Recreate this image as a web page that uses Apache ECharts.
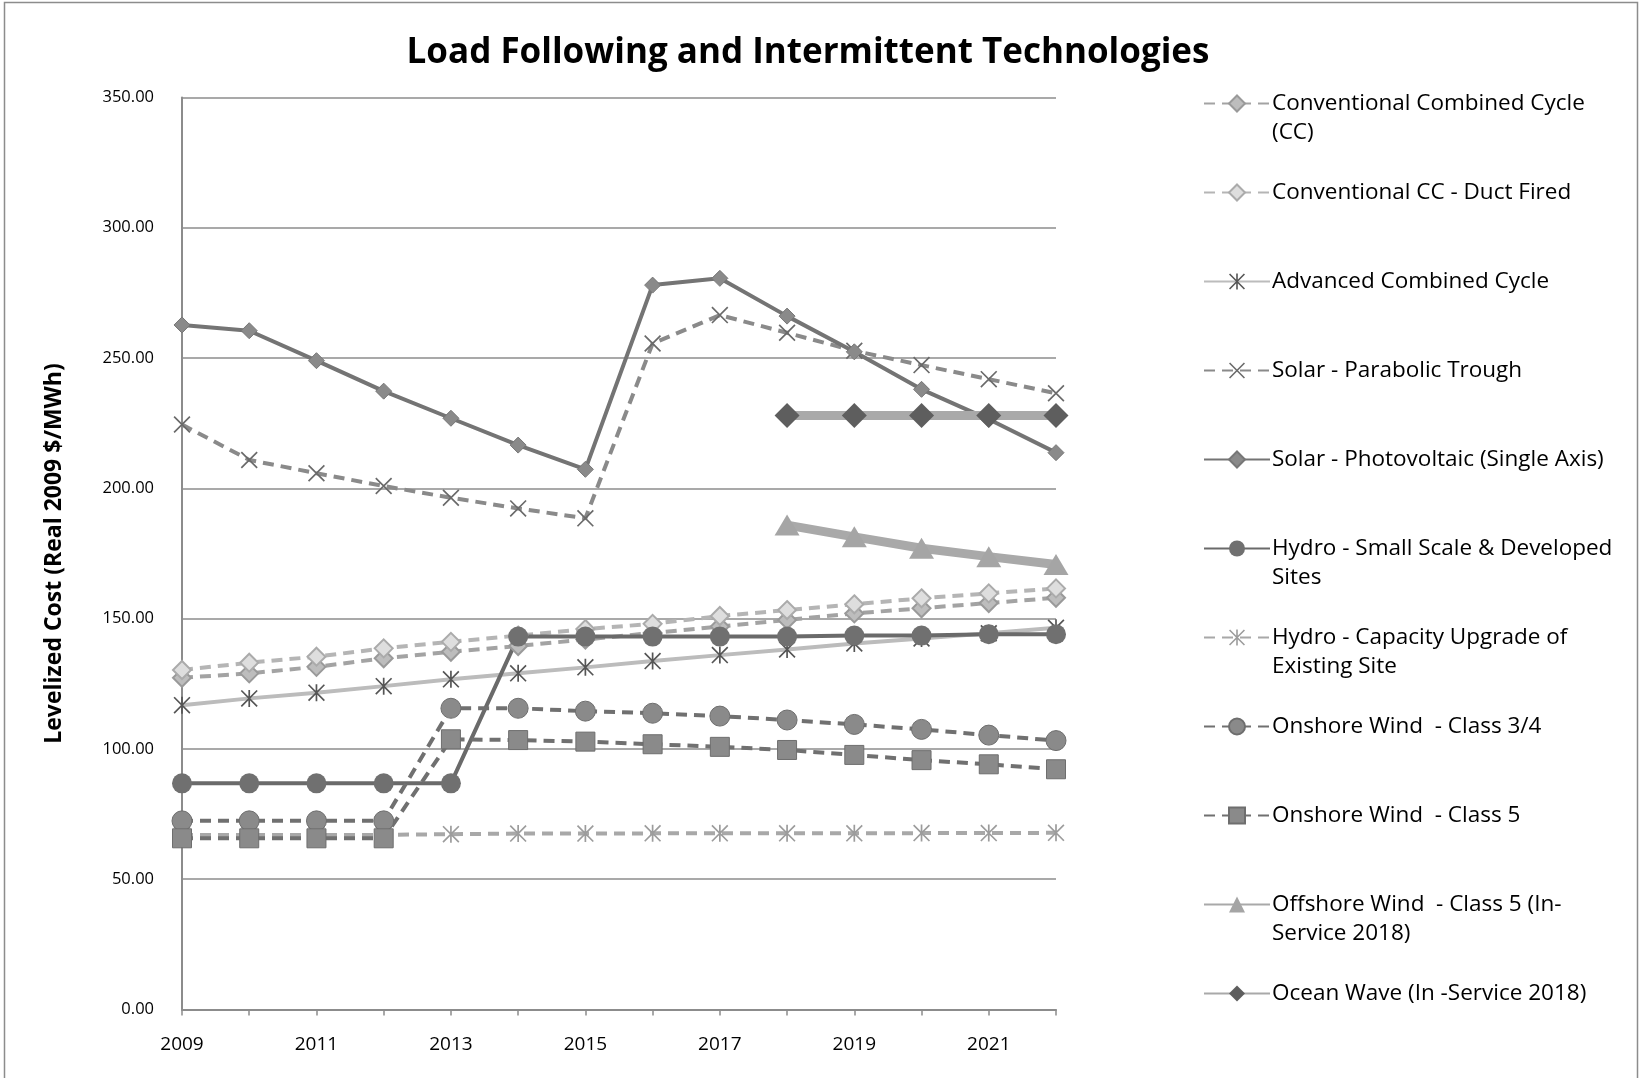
<!DOCTYPE html>
<html>
<head>
<meta charset="utf-8">
<script src="https://cdn.jsdelivr.net/npm/echarts@6/dist/echarts.min.js"></script>
<style>
html,body{margin:0;padding:0;background:#fff;}
#chart{width:1642px;height:1078px;}
</style>
</head>
<body>
<div id="chart"></div>
<script>
const years = ['2009','2010','2011','2012','2013','2014','2015','2016','2017','2018','2019','2020','2021','2022'];
const yTicks = [0, 50, 100, 150, 200, 250, 300, 350];

const convCC      = [127.3, 129.0, 131.5, 134.8, 137.3, 139.5, 142.0, 144.5, 147.0, 149.5, 152.0, 154.0, 156.0, 158.0];
const ductFired   = [130.3, 133.1, 135.4, 138.6, 141.1, 143.5, 146.0, 148.0, 151.0, 153.3, 155.5, 157.8, 159.7, 161.6];
const advCC       = [116.8, 119.4, 121.6, 124.1, 126.7, 129.0, 131.3, 133.7, 136.0, 138.2, 140.5, 142.4, 144.4, 146.5];
const solarTrough = [224.5, 210.9, 205.8, 200.9, 196.4, 192.3, 188.5, 255.6, 266.5, 259.7, 252.8, 247.3, 241.9, 236.5];
const solarPV     = [262.7, 260.5, 249.0, 237.3, 226.9, 216.6, 207.3, 278.0, 280.6, 266.1, 252.4, 238.0, 226.5, 213.7];
const hydroSmall  = [86.8, 86.8, 86.8, 86.8, 86.8, 143.1, 143.1, 143.1, 143.1, 143.1, 143.5, 143.5, 144.0, 144.0];
const hydroUpg    = [67.0, 67.0, 67.0, 67.0, 67.3, 67.5, 67.5, 67.6, 67.6, 67.6, 67.6, 67.7, 67.7, 67.8];
const wind34      = [72.4, 72.4, 72.4, 72.4, 115.6, 115.6, 114.5, 113.7, 112.6, 111.1, 109.4, 107.5, 105.3, 103.2];
const wind5       = [65.7, 65.7, 65.7, 65.7, 103.7, 103.4, 102.8, 101.8, 100.8, 99.6, 97.7, 95.7, 94.1, 92.2];
const offshore    = [null, null, null, null, null, null, null, null, null, 185.9, 181.4, 177.0, 173.8, 170.8];
const oceanWave   = [null, null, null, null, null, null, null, null, null, 228.0, 228.0, 228.0, 228.0, 228.0];

const names = [
  'Conventional Combined Cycle (CC)',
  'Conventional CC - Duct Fired',
  'Advanced Combined Cycle',
  'Solar - Parabolic Trough',
  'Solar - Photovoltaic (Single Axis)',
  'Hydro - Small Scale & Developed Sites',
  'Hydro - Capacity Upgrade of Existing Site',
  'Onshore Wind  - Class 3/4',
  'Onshore Wind  - Class 5',
  'Offshore Wind  - Class 5 (In-Service 2018)',
  'Ocean Wave (In -Service 2018)'
];
const legendLines = {
  'Conventional Combined Cycle (CC)': ['Conventional Combined Cycle', '(CC)'],
  'Hydro - Small Scale & Developed Sites': ['Hydro - Small Scale & Developed', 'Sites'],
  'Hydro - Capacity Upgrade of Existing Site': ['Hydro - Capacity Upgrade of', 'Existing Site'],
  'Offshore Wind  - Class 5 (In-Service 2018)': ['Offshore Wind  - Class 5 (In-', 'Service 2018)']
};

const FONT = 'Open Sans';
const STAR = 'path://M9,0 L11,0 L11,20 L9,20 Z M0,1.4 L1.4,0 L20,18.6 L18.6,20 Z M18.6,0 L20,1.4 L1.4,20 L0,18.6 Z';
const XMARK = 'path://M0,1.4 L1.4,0 L20,18.6 L18.6,20 Z M18.6,0 L20,1.4 L1.4,20 L0,18.6 Z';
const DASH = [11, 7];

function mk(name, data, o) {
  return {
    name: name, type: 'line', data: data,
    connectNulls: false,
    symbol: o.symbol, symbolSize: o.size,
    lineStyle: { color: o.line, width: o.width, type: o.dash ? DASH : 'solid' },
    itemStyle: { color: o.fill, borderColor: o.border || o.fill, borderWidth: o.bw || 0 },
    emphasis: { disabled: true },
    animation: false
  };
}

const series = [
  mk(names[0], convCC,      { symbol: 'diamond', size: 18, line: '#a3a3a3', width: 4, dash: true, fill: '#bdbdbd', border: '#9a9a9a', bw: 2 }),
  mk(names[1], ductFired,   { symbol: 'diamond', size: 18, line: '#b5b5b5', width: 4, dash: true, fill: '#dedede', border: '#ababab', bw: 2 }),
  mk(names[2], advCC,       { symbol: STAR,      size: 17, line: '#bcbcbc', width: 4, dash: false, fill: '#555555' }),
  mk(names[3], solarTrough, { symbol: XMARK,     size: 17, line: '#8a8a8a', width: 4, dash: true, fill: '#6a6a6a' }),
  mk(names[4], solarPV,     { symbol: 'diamond', size: 16, line: '#747474', width: 4, dash: false, fill: '#8a8a8a', border: '#777777', bw: 1 }),
  mk(names[5], hydroSmall,  { symbol: 'circle',  size: 20, line: '#6a6a6a', width: 4, dash: false, fill: '#707070' }),
  mk(names[6], hydroUpg,    { symbol: STAR,      size: 17, line: '#a8a8a8', width: 4, dash: true, fill: '#9c9c9c' }),
  mk(names[7], wind34,      { symbol: 'circle',  size: 20, line: '#707070', width: 4, dash: true, fill: '#8a8a8a', border: '#6e6e6e', bw: 1 }),
  mk(names[8], wind5,       { symbol: 'rect',    size: 19, line: '#707070', width: 4, dash: true, fill: '#8a8a8a', border: '#6e6e6e', bw: 1 }),
  mk(names[9], offshore,    { symbol: 'triangle',size: [25, 21], line: '#a9a9a9', width: 9, dash: false, fill: '#a5a5a5' }),
  mk(names[10], oceanWave,  { symbol: 'diamond', size: 25, line: '#a9a9a9', width: 9, dash: false, fill: '#5e5e5e' })
];

const chart = echarts.init(document.getElementById('chart'), null, { renderer: 'canvas' });
chart.setOption({
  backgroundColor: '#ffffff',
  animation: false,
  title: {
    text: 'Load Following and Intermittent Technologies',
    left: 803, top: 31, textAlign: 'center',
    textStyle: { fontFamily: FONT, fontWeight: 'bold', fontSize: 35, color: '#000' }
  },
  graphic: [{
    type: 'rect', silent: true,
    shape: { x: 4.5, y: 2.5, width: 1633, height: 1100 },
    style: { fill: 'none', stroke: '#8c8c8c', lineWidth: 1.5 }
  }],
  grid: { left: 182, right: 586, top: 97.5, bottom: 68.5, containLabel: false },
  legend: {
    orient: 'vertical', left: 1198, top: 55,
    itemGap: 2, itemWidth: 66, itemHeight: 20,
    selectedMode: false,
    data: names,
    formatter: function (n) {
      const l = legendLines[n] || [n, ' '];
      return '\n' + l[0] + '\n' + l[1];
    },
    textStyle: { fontFamily: FONT, fontSize: 22.5, lineHeight: 29, color: '#000', padding: [0, 0, 0, -3] }
  },
  xAxis: {
    type: 'category', data: years, boundaryGap: false,
    axisLine: { lineStyle: { color: '#8c8c8c', width: 2 } },
    axisTick: { show: true, interval: 0, length: 6, lineStyle: { color: '#8c8c8c', width: 1.5 } },
    axisLabel: { interval: 1, margin: 26, fontFamily: FONT, fontSize: 19, color: '#000' },
    splitLine: { show: false }
  },
  yAxis: {
    type: 'value', min: 0, max: 350, interval: 50,
    name: 'Levelized Cost (Real 2009 $/MWh)', nameLocation: 'middle', nameGap: 116, nameRotate: 90,
    nameTextStyle: { fontFamily: FONT, fontWeight: 'bold', fontSize: 23, color: '#000' },
    axisLine: { show: true, lineStyle: { color: '#8c8c8c', width: 2 } },
    axisTick: { show: false },
    axisLabel: { margin: 28, fontFamily: FONT, fontSize: 16.5, color: '#000',
      formatter: function (v) { return yTicks.indexOf(v) >= 0 ? v.toFixed(2) : ''; } },
    splitLine: { show: true, lineStyle: { color: '#8c8c8c', width: 1.5 } }
  },
  series: series
});
</script>
</body>
</html>
